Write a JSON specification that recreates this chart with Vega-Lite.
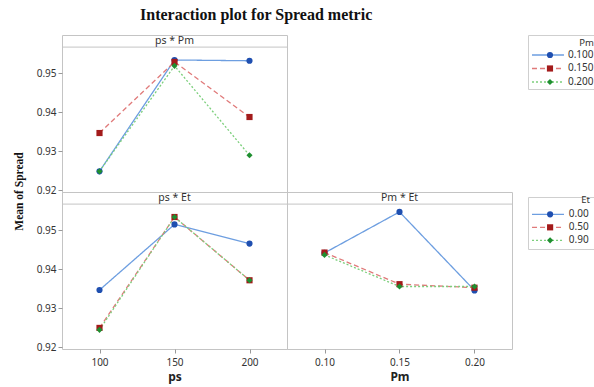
{
  "$schema": "https://vega.github.io/schema/vega-lite/v6.json",
  "autosize": {"type": "none"},
  "padding": {"left": 62, "top": 35, "right": 532, "bottom": 352},
  "background": "white",
  "title": {"text": "Interaction plot for Spread metric", "anchor": "start", "frame": "group", "dx": 78, "dy": 15.5, "offset": 14.5, "baseline": "alphabetic", "font": "Liberation Serif", "fontSize": 16, "fontWeight": "bold", "color": "#111"},
  "config": {
    "view": {"stroke": "#c4c4c4", "strokeWidth": 1},
    "axis": {"labelFont": "Noto Sans", "labelFontSize": 10, "labelColor": "#333", "tickColor": "#999", "tickSize": 4, "domain": false, "grid": false, "labelPadding": 2, "titleFont": "Noto Sans", "titleFontSize": 12, "titleFontWeight": "bold", "titleColor": "#222", "titlePadding": 3},
    "axisX": {"labelPadding": 4, "titlePadding": 4}
  },
  "datasets": {
    "psPm": [
      {"ps": 100, "Pm": "0.100", "mean": 0.9249},
      {"ps": 150, "Pm": "0.100", "mean": 0.9534},
      {"ps": 200, "Pm": "0.100", "mean": 0.9532},
      {"ps": 100, "Pm": "0.150", "mean": 0.9347},
      {"ps": 150, "Pm": "0.150", "mean": 0.9529},
      {"ps": 200, "Pm": "0.150", "mean": 0.9388},
      {"ps": 100, "Pm": "0.200", "mean": 0.9249},
      {"ps": 150, "Pm": "0.200", "mean": 0.9519},
      {"ps": 200, "Pm": "0.200", "mean": 0.9290}
    ],
    "psEt": [
      {"ps": 100, "Et": "0.00", "mean": 0.9347},
      {"ps": 150, "Et": "0.00", "mean": 0.9515},
      {"ps": 200, "Et": "0.00", "mean": 0.9466},
      {"ps": 100, "Et": "0.50", "mean": 0.9250},
      {"ps": 150, "Et": "0.50", "mean": 0.9534},
      {"ps": 200, "Et": "0.50", "mean": 0.9372},
      {"ps": 100, "Et": "0.90", "mean": 0.9245},
      {"ps": 150, "Et": "0.90", "mean": 0.9534},
      {"ps": 200, "Et": "0.90", "mean": 0.9372}
    ],
    "PmEt": [
      {"Pm": 0.10, "Et": "0.00", "mean": 0.9442},
      {"Pm": 0.15, "Et": "0.00", "mean": 0.9547},
      {"Pm": 0.20, "Et": "0.00", "mean": 0.9346},
      {"Pm": 0.10, "Et": "0.50", "mean": 0.9443},
      {"Pm": 0.15, "Et": "0.50", "mean": 0.9362},
      {"Pm": 0.20, "Et": "0.50", "mean": 0.9353},
      {"Pm": 0.10, "Et": "0.90", "mean": 0.9437},
      {"Pm": 0.15, "Et": "0.90", "mean": 0.9356},
      {"Pm": 0.20, "Et": "0.90", "mean": 0.9356}
    ],
    "hdr1": [{"label": "ps * Pm"}],
    "hdr2": [{"label": "ps * Et"}],
    "hdr3": [{"label": "Pm * Et"}],
    "legPm": [{"Pm": "0.100"}, {"Pm": "0.150"}, {"Pm": "0.200"}],
    "legEt": [{"Et": "0.00"}, {"Et": "0.50"}, {"Et": "0.90"}]
  },
  "hconcat": [
    {
      "vconcat": [
        {
          "width": 225, "height": 157,
          "layer": [
            {"data": {"name": "hdr1"}, "mark": {"type": "rule", "color": "#c4c4c4", "strokeWidth": 1},
             "encoding": {"y": {"datum": 0.9567, "type": "quantitative", "scale": {"domain": [0.9196, 0.9598], "nice": false, "zero": false}, "axis": {"values": [0.92, 0.93, 0.94, 0.95], "format": ".2f", "title": "Mean of Spread", "titleX": -38, "titleY": 156, "titleFont": "Liberation Serif", "titleFontSize": 11.5, "titleColor": "#111"}}}},
            {"data": {"name": "hdr1"}, "mark": {"type": "text", "fontSize": 10.5, "font": "Noto Sans", "color": "#333", "baseline": "middle"},
             "encoding": {"text": {"field": "label"}, "x": {"datum": 150, "type": "quantitative", "scale": {"domain": [75, 225], "nice": false, "zero": false}, "axis": null}, "y": {"datum": 0.9583, "type": "quantitative"}}},
            {"data": {"name": "psPm"}, "mark": {"type": "line", "strokeWidth": 1.3},
             "encoding": {
               "x": {"field": "ps", "type": "quantitative", "scale": {"domain": [75, 225], "nice": false, "zero": false}, "axis": null},
               "y": {"field": "mean", "type": "quantitative"},
               "color": {"field": "Pm", "type": "nominal", "scale": {"domain": ["0.100", "0.150", "0.200"], "range": ["#6d9ee0", "#e07a7a", "#7ccf7c"]}, "legend": null},
               "strokeDash": {"field": "Pm", "type": "nominal", "scale": {"domain": ["0.100", "0.150", "0.200"], "range": [[1, 0], [5, 3], [2, 2]]}, "legend": null}}},
            {"data": {"name": "psPm"}, "mark": {"type": "point", "filled": true, "size": 38, "opacity": 1},
             "encoding": {
               "x": {"field": "ps", "type": "quantitative"},
               "y": {"field": "mean", "type": "quantitative"},
               "fill": {"field": "Pm", "type": "nominal", "scale": {"domain": ["0.100", "0.150", "0.200"], "range": ["#1f4fb0", "#a31b1b", "#1f8f30"]}, "legend": null},
               "shape": {"field": "Pm", "type": "nominal", "scale": {"domain": ["0.100", "0.150", "0.200"], "range": ["circle", "square", "diamond"]}, "legend": null}}}
          ]
        },
        {
          "hconcat": [
            {
              "width": 225, "height": 157,
              "layer": [
                {"data": {"name": "hdr2"}, "mark": {"type": "rule", "color": "#c4c4c4", "strokeWidth": 1},
                 "encoding": {"y": {"datum": 0.9567, "type": "quantitative", "scale": {"domain": [0.9196, 0.9598], "nice": false, "zero": false}, "axis": {"values": [0.92, 0.93, 0.94, 0.95], "format": ".2f", "title": null}}}},
                {"data": {"name": "hdr2"}, "mark": {"type": "text", "fontSize": 10.5, "font": "Noto Sans", "color": "#333", "baseline": "middle"},
                 "encoding": {"text": {"field": "label"}, "x": {"datum": 150, "type": "quantitative", "scale": {"domain": [75, 225], "nice": false, "zero": false}, "axis": {"values": [100, 150, 200], "title": "ps"}}, "y": {"datum": 0.9583, "type": "quantitative"}}},
                {"data": {"name": "psEt"}, "mark": {"type": "line", "strokeWidth": 1.3},
                 "encoding": {
                   "x": {"field": "ps", "type": "quantitative", "axis": {"values": [100, 150, 200], "title": "ps"}},
                   "y": {"field": "mean", "type": "quantitative"},
                   "color": {"field": "Et", "type": "nominal", "scale": {"domain": ["0.00", "0.50", "0.90"], "range": ["#6d9ee0", "#e07a7a", "#7ccf7c"]}, "legend": null},
                   "strokeDash": {"field": "Et", "type": "nominal", "scale": {"domain": ["0.00", "0.50", "0.90"], "range": [[1, 0], [5, 3], [2, 2]]}, "legend": null}}},
                {"data": {"name": "psEt"}, "mark": {"type": "point", "filled": true, "size": 38, "opacity": 1},
                 "encoding": {
                   "x": {"field": "ps", "type": "quantitative"},
                   "y": {"field": "mean", "type": "quantitative"},
                   "fill": {"field": "Et", "type": "nominal", "scale": {"domain": ["0.00", "0.50", "0.90"], "range": ["#1f4fb0", "#a31b1b", "#1f8f30"]}, "legend": null},
                   "shape": {"field": "Et", "type": "nominal", "scale": {"domain": ["0.00", "0.50", "0.90"], "range": ["circle", "square", "diamond"]}, "legend": null}}}
              ]
            },
            {
              "width": 225, "height": 157,
              "layer": [
                {"data": {"name": "hdr3"}, "mark": {"type": "rule", "color": "#c4c4c4", "strokeWidth": 1},
                 "encoding": {"y": {"datum": 0.9567, "type": "quantitative", "scale": {"domain": [0.9196, 0.9598], "nice": false, "zero": false}, "axis": null}}},
                {"data": {"name": "hdr3"}, "mark": {"type": "text", "fontSize": 10.5, "font": "Noto Sans", "color": "#333", "baseline": "middle"},
                 "encoding": {"text": {"field": "label"}, "x": {"datum": 0.15, "type": "quantitative", "scale": {"domain": [0.075, 0.225], "nice": false, "zero": false}, "axis": {"values": [0.1, 0.15, 0.2], "format": ".2f", "title": "Pm"}}, "y": {"datum": 0.9583, "type": "quantitative"}}},
                {"data": {"name": "PmEt"}, "mark": {"type": "line", "strokeWidth": 1.3},
                 "encoding": {
                   "x": {"field": "Pm", "type": "quantitative", "axis": {"values": [0.1, 0.15, 0.2], "format": ".2f", "title": "Pm"}},
                   "y": {"field": "mean", "type": "quantitative"},
                   "color": {"field": "Et", "type": "nominal", "scale": {"domain": ["0.00", "0.50", "0.90"], "range": ["#6d9ee0", "#e07a7a", "#7ccf7c"]}, "legend": null},
                   "strokeDash": {"field": "Et", "type": "nominal", "scale": {"domain": ["0.00", "0.50", "0.90"], "range": [[1, 0], [5, 3], [2, 2]]}, "legend": null}}},
                {"data": {"name": "PmEt"}, "mark": {"type": "point", "filled": true, "size": 38, "opacity": 1},
                 "encoding": {
                   "x": {"field": "Pm", "type": "quantitative"},
                   "y": {"field": "mean", "type": "quantitative"},
                   "fill": {"field": "Et", "type": "nominal", "scale": {"domain": ["0.00", "0.50", "0.90"], "range": ["#1f4fb0", "#a31b1b", "#1f8f30"]}, "legend": null},
                   "shape": {"field": "Et", "type": "nominal", "scale": {"domain": ["0.00", "0.50", "0.90"], "range": ["circle", "square", "diamond"]}, "legend": null}}}
              ]
            }
          ],
          "spacing": 0,
          "bounds": "flush"
        }
      ],
      "spacing": 0,
      "bounds": "flush",
      "resolve": {"scale": {"color": "independent", "fill": "independent", "shape": "independent", "strokeDash": "independent"}}
    },
    {
      "vconcat": [
        {
          "width": 74, "height": 54,
          "data": {"name": "legPm"},
          "view": {"stroke": "#cfcfcf"},
          "title": {"text": "Pm", "anchor": "end", "orient": "top", "frame": "group", "offset": -14, "dy": 8, "dx": -8, "baseline": "bottom", "fontSize": 9.5, "font": "Noto Sans", "fontWeight": "normal", "color": "#333"},
          "encoding": {"y": {"field": "Pm", "type": "nominal", "axis": null, "scale": {"type": "point", "padding": 1.25, "align": 0.74}}},
          "layer": [
            {"mark": {"type": "rule", "strokeWidth": 1.3},
             "encoding": {
               "x": {"datum": 0.054, "type": "quantitative", "scale": {"domain": [0, 1], "nice": false, "zero": false}, "axis": null},
               "x2": {"datum": 0.486},
               "color": {"field": "Pm", "type": "nominal", "scale": {"domain": ["0.100", "0.150", "0.200"], "range": ["#6d9ee0", "#e07a7a", "#7ccf7c"]}, "legend": null},
               "strokeDash": {"field": "Pm", "type": "nominal", "scale": {"domain": ["0.100", "0.150", "0.200"], "range": [[1, 0], [5, 3], [2, 2]]}, "legend": null}}},
            {"mark": {"type": "point", "filled": true, "size": 38, "opacity": 1},
             "encoding": {
               "x": {"datum": 0.297, "type": "quantitative"},
               "fill": {"field": "Pm", "type": "nominal", "scale": {"domain": ["0.100", "0.150", "0.200"], "range": ["#1f4fb0", "#a31b1b", "#1f8f30"]}, "legend": null},
               "shape": {"field": "Pm", "type": "nominal", "scale": {"domain": ["0.100", "0.150", "0.200"], "range": ["circle", "square", "diamond"]}, "legend": null}}},
            {"mark": {"type": "text", "align": "left", "baseline": "middle", "fontSize": 10, "font": "Noto Sans", "color": "#333"},
             "encoding": {"x": {"datum": 0.54, "type": "quantitative"}, "text": {"field": "Pm"}}}
          ]
        },
        {
          "width": 67, "height": 52,
          "data": {"name": "legEt"},
          "view": {"stroke": "#cfcfcf"},
          "title": {"text": "Et", "anchor": "end", "orient": "top", "frame": "group", "offset": -10.5, "dy": 7, "dx": -5, "baseline": "bottom", "fontSize": 9.5, "font": "Noto Sans", "fontWeight": "normal", "color": "#333"},
          "encoding": {"y": {"field": "Et", "type": "nominal", "axis": null, "scale": {"type": "point", "padding": 1.08, "align": 0.667}}},
          "layer": [
            {"mark": {"type": "rule", "strokeWidth": 1.3},
             "encoding": {
               "x": {"datum": 0.06, "type": "quantitative", "scale": {"domain": [0, 1], "nice": false, "zero": false}, "axis": null},
               "x2": {"datum": 0.537},
               "color": {"field": "Et", "type": "nominal", "scale": {"domain": ["0.00", "0.50", "0.90"], "range": ["#6d9ee0", "#e07a7a", "#7ccf7c"]}, "legend": null},
               "strokeDash": {"field": "Et", "type": "nominal", "scale": {"domain": ["0.00", "0.50", "0.90"], "range": [[1, 0], [5, 3], [2, 2]]}, "legend": null}}},
            {"mark": {"type": "point", "filled": true, "size": 38, "opacity": 1},
             "encoding": {
               "x": {"datum": 0.33, "type": "quantitative"},
               "fill": {"field": "Et", "type": "nominal", "scale": {"domain": ["0.00", "0.50", "0.90"], "range": ["#1f4fb0", "#a31b1b", "#1f8f30"]}, "legend": null},
               "shape": {"field": "Et", "type": "nominal", "scale": {"domain": ["0.00", "0.50", "0.90"], "range": ["circle", "square", "diamond"]}, "legend": null}}},
            {"mark": {"type": "text", "align": "left", "baseline": "middle", "fontSize": 10, "font": "Noto Sans", "color": "#333"},
             "encoding": {"x": {"datum": 0.61, "type": "quantitative"}, "text": {"field": "Et"}}}
          ]
        }
      ],
      "spacing": 108,
      "bounds": "flush",
      "resolve": {"scale": {"color": "independent", "fill": "independent", "shape": "independent", "strokeDash": "independent"}}
    }
  ],
  "spacing": 14,
  "resolve": {"scale": {"color": "independent", "fill": "independent", "shape": "independent", "strokeDash": "independent"}}
}
